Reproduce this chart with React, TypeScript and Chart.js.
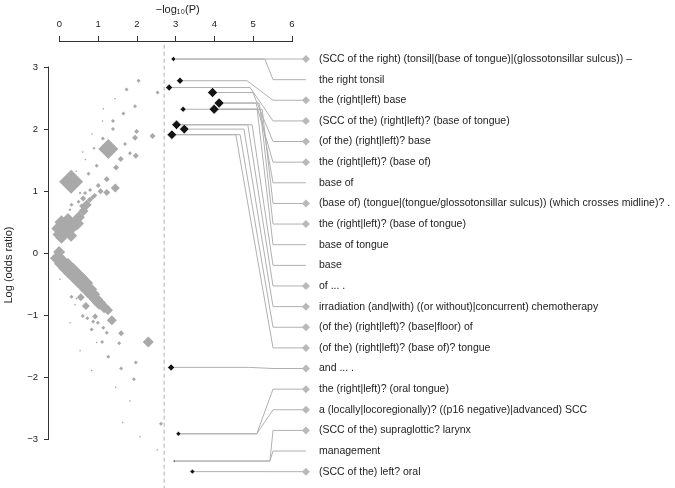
import React, { useEffect, useRef } from 'react';
import { Chart, registerables } from 'chart.js';

Chart.register(...registerables);

// ---- axes ----
const xTicks = [0, 1, 2, 3, 4, 5, 6];
const yTicks = [-3, -2, -1, 0, 1, 2, 3];
const xMin = -0.271;
const xMax = 6.374;
const yMin = -3.784;
const yMax = 3.404;
const threshold = 2.7;
const thresholdTop = 3.36;

// ---- significant (black) points ----
const sigX = [2.94, 3.11, 2.83, 3.95, 3.19, 4.12, 3.99, 3.02, 3.22, 2.9, 2.88, 3.07, 2.96, 3.43];
const sigY = [3.13, 2.78, 2.67, 2.59, 2.32, 2.42, 2.32, 2.07, 2.0, 1.91, -1.84, -2.91, -3.35, -3.52];
const sigR = [2.5, 3.5, 3.5, 5, 3, 5, 5, 4.8, 4.8, 4.8, 3.5, 2.5, 1.2, 2.5];

// ---- non-significant (grey) points ----
const greyX = [
  2.04, 1.73, 2.53, 1.43, 1.95, 1.13, 1.65, 1.11, 1.38, 1.38, 1.99, 2.4, 1.95, 0.84, 1.12, 1.26, 1.69, 1.82, 0.89, 0.6,
  0.67, 1.97, 1.58, 1.46, 0.96, 0.75, 0.43, 1.22, 1.44, 1.22, 1.0, 0.79, 0.91, 0.3, 0.66, 0.53, 0.61, 0.49, 0.31, 0.27,
  0.7, 0.62, 0.5, 0.35, 0.12, -0.03, 0.05, 0.3, 0.05, 0.22, 0.0, 0.45, 0.78, 0.86, 1.06, 0.57,
  -0.01, -0.04, 0.09, 0.22, 0.35, 0.48, 0.61, 0.74, 0.84, 0.94, 1.02, 1.15, 1.25, 0.68, 0.55,
  0.01, 0.31, 0.44, 0.4, 0.6, 0.72, 0.92, 0.87, 1.35, 0.27, 0.99, 0.83, 1.13, 1.22, 1.59, 0.96, 1.1, 1.54, 2.29, 0.53,
  1.26, 1.97, 0.83, 1.59, 1.92, 1.45, 1.82, 1.63, 2.62, 2.08, 2.52,
];
const greyY = [
  2.78, 2.64, 2.59, 2.49, 2.37, 2.33, 2.25, 2.13, 2.13, 2.0, 1.96, 1.89, 1.86, 1.92, 1.85, 1.68, 1.76, 1.61, 1.69, 1.63,
  1.51, 1.57, 1.52, 1.38, 1.41, 1.28, 1.32, 1.19, 1.05, 0.98, 1.09, 1.02, 0.93, 1.15, 0.97, 0.97, 0.88, 0.83, 0.78, 0.7,
  0.78, 0.68, 0.58, 0.45, 0.4, 0.4, 0.5, 0.28, 0.25, 0.55, 0.3, 0.48, 0.86, 0.9, 1.0, 0.76,
  0.02, -0.08, -0.17, -0.24, -0.32, -0.4, -0.48, -0.58, -0.66, -0.74, -0.8, -0.87, -0.92, -0.85, -0.71,
  -0.42, -0.7, -0.73, -0.83, -1.01, -1.05, -1.02, -1.1, -1.08, -1.12, -1.12, -1.23, -1.2, -1.28, -1.29, -1.44, -1.43, -1.45, -1.43, -1.57,
  -1.67, -1.76, -1.89, -1.86, -2.03, -2.16, -2.38, -2.73, -2.75, -2.96, -3.17,
];
const greyR = [
  2, 2, 2, 1, 2, 1, 2, 1, 2, 2, 2.5, 3, 3, 1, 2, 10, 2, 2, 1.5, 1,
  1, 3, 3, 3, 2, 2, 1, 3, 4.5, 3.5, 2.5, 2, 2.5, 12, 2, 1.5, 3, 2, 2, 1.5,
  5, 5, 6, 8, 11, 7, 7, 6, 6, 6, 7, 7, 3, 2.5, 3, 2.5,
  6, 8, 9, 10, 10, 10, 10, 9, 8, 7, 7, 6, 5, 4, 4,
  1, 2, 1, 1, 2, 2, 3, 2, 5, 1, 2, 2, 2, 2, 3, 1, 2, 2, 5.5, 1,
  2, 2, 1, 2, 2, 1, 1, 1, 2, 1, 1,
];

// ---- label rows ----
const rowLabels = [
  '(SCC of the right) (tonsil|(base of tongue)|(glossotonsillar sulcus)) \u2013',
  'the right tonsil',
  'the (right|left) base',
  '(SCC of the) (right|left)? (base of tongue)',
  '(of the) (right|left)? base',
  'the (right|left)? (base of)',
  'base of',
  '(base of) (tongue|(tongue/glossotonsillar sulcus)) (which crosses midline)? .',
  'the (right|left)? (base of tongue)',
  'base of tongue',
  'base',
  'of ... .',
  'irradiation (and|with) ((or without)|concurrent) chemotherapy',
  '(of the) (right|left)? (base|floor) of',
  '(of the) (right|left)? (base of)? tongue',
  'and ... .',
  'the (right|left)? (oral tongue)',
  'a (locally|locoregionally)? ((p16 negative)|advanced) SCC',
  '(SCC of the) supraglottic? larynx',
  'management',
  '(SCC of the) left? oral',
];
const rowY = [3.13, 2.797, 2.465, 2.132, 1.8, 1.467, 1.135, 0.802, 0.47, 0.137, -0.196, -0.528, -0.861, -1.193, -1.526, -1.858, -2.191, -2.523, -2.856, -3.188, -3.521];
const rowSrc = [0, 0, 1, 2, 3, 5, 5, 4, 6, 6, 7, 7, 8, 9, 9, 10, 11, 11, 12, 12, 13];
const rowBend = [5.3, 5.3, 4.84, 4.92, 4.99, 5.07, 5.15, 5.23, 5.18, 5.1, 4.97, 4.86, 4.76, 4.66, 4.55, 4.9, 5.09, 5.09, 5.43, 5.43, 5.3];
const rowMark = [1, 0, 1, 1, 1, 1, 0, 1, 1, 0, 0, 1, 1, 1, 1, 1, 1, 1, 1, 0, 1];
const bend2X = 5.51;
const endX = 6.36;

const FONT = "'Liberation Sans', Arial, Helvetica, sans-serif";
const axisColor = '#333333';
const textColor = '#222222';
const greyColor = '#a9a9a9';
const blackColor = '#141414';
const lineGrey = '#b0b0b0';
const markGrey = '#b9b9b9';

const fmt = (v: number) => (v < 0 ? '\u2212' + Math.abs(v) : String(v));

const axisLines = {
  id: 'axisLines',
  afterDraw(chart: any) {
    const { ctx, scales, chartArea } = chart;
    const sx = scales.x;
    const sy = scales.y;
    ctx.save();
    ctx.strokeStyle = axisColor;
    ctx.lineWidth = 1;
    ctx.beginPath();
    const ty = chartArea.top - 0.5;
    ctx.moveTo(Math.round(sx.getPixelForValue(xTicks[0])) - 0.5, ty);
    ctx.lineTo(Math.round(sx.getPixelForValue(xTicks[xTicks.length - 1])) + 0.5, ty);
    const lx = chartArea.left - 0.5;
    ctx.moveTo(lx, Math.round(sy.getPixelForValue(yTicks[yTicks.length - 1])) - 0.5);
    ctx.lineTo(lx, Math.round(sy.getPixelForValue(yTicks[0])) + 0.5);
    ctx.stroke();
    ctx.restore();
  },
};

export default function App() {
  const ref = useRef<HTMLCanvasElement>(null);

  useEffect(() => {
    const canvas = ref.current;
    if (!canvas) return;
    Chart.defaults.font.family = FONT;

    const datasets: any[] = [];
    datasets.push({
      data: sigX.map((x, i) => ({ x, y: sigY[i] })),
      pointStyle: 'rectRot',
      pointRadius: sigR,
      backgroundColor: blackColor,
      borderColor: '#ffffff',
      borderWidth: 0.6,
      order: 0,
      clip: false,
    });
    const marked = rowY.map((y, i) => ({ y, i })).filter((r) => rowMark[r.i] === 1);
    datasets.push({
      data: marked.map((r) => ({ x: endX, y: r.y })),
      pointStyle: 'rectRot',
      pointRadius: 4,
      backgroundColor: markGrey,
      borderWidth: 0,
      order: 1,
      clip: false,
    });
    rowY.forEach((ry, i) => {
      const s = rowSrc[i];
      datasets.push({
        data: [
          { x: sigX[s], y: sigY[s] },
          { x: rowBend[i], y: sigY[s] },
          { x: bend2X, y: ry },
          { x: endX, y: ry },
        ],
        showLine: true,
        pointRadius: 0,
        borderColor: lineGrey,
        borderWidth: 1,
        order: 2,
        clip: false,
      });
    });
    datasets.push({
      data: greyX.map((x, i) => ({ x, y: greyY[i] })),
      pointStyle: 'rectRot',
      pointRadius: greyR,
      backgroundColor: greyColor,
      borderWidth: 0,
      order: 3,
    });
    datasets.push({
      data: [
        { x: threshold, y: thresholdTop },
        { x: threshold, y: yMin },
      ],
      showLine: true,
      pointRadius: 0,
      borderColor: lineGrey,
      borderWidth: 1,
      borderDash: [4, 3],
      order: 4,
    });

    const chart = new Chart(canvas, {
      type: 'scatter',
      data: { datasets },
      options: {
        animation: false,
        responsive: false,
        events: [],
        layout: { padding: 0, autoPadding: false },
        plugins: { legend: { display: false }, tooltip: { enabled: false } },
        scales: {
          x: {
            type: 'linear',
            position: 'top',
            min: xMin,
            max: xMax,
            afterBuildTicks: (s: any) => {
              s.ticks = xTicks.map((v) => ({ value: v }));
            },
            afterFit: (s: any) => {
              s.height = 42;
              s.paddingLeft = 0;
              s.paddingRight = 0;
            },
            ticks: {
              font: { family: FONT, size: 9.5 },
              color: textColor,
              padding: 6,
              maxRotation: 0,
              autoSkip: false,
              callback: (v: any) => fmt(Number(v)),
            },
            grid: { drawOnChartArea: false, drawTicks: true, tickLength: 6, color: axisColor, lineWidth: 1 },
            border: { display: false },
            title: {
              display: true,
              text: '\u2212log\u2081\u2080(P)',
              font: { family: FONT, size: 11 },
              color: textColor,
              padding: { top: 3, bottom: 0 },
            },
          },
          y: {
            type: 'linear',
            position: 'left',
            min: yMin,
            max: yMax,
            afterBuildTicks: (s: any) => {
              s.ticks = yTicks.map((v) => ({ value: v }));
            },
            afterFit: (s: any) => {
              s.width = 49;
              s.paddingTop = 0;
              s.paddingBottom = 0;
            },
            ticks: {
              font: { family: FONT, size: 9.5 },
              color: textColor,
              padding: 6,
              autoSkip: false,
              callback: (v: any) => fmt(Number(v)),
            },
            grid: { drawOnChartArea: false, drawTicks: true, tickLength: 5, color: axisColor, lineWidth: 1 },
            border: { display: false },
            title: {
              display: true,
              text: 'Log (odds ratio)',
              font: { family: FONT, size: 11 },
              color: textColor,
              padding: { top: 2, bottom: 0 },
            },
          },
          yR: {
            type: 'linear',
            axis: 'y',
            position: 'right',
            min: yMin,
            max: yMax,
            afterBuildTicks: (s: any) => {
              s.ticks = rowY.map((v) => ({ value: v }));
            },
            afterFit: (s: any) => {
              s.width = 368.5;
              s.paddingTop = 0;
              s.paddingBottom = 0;
            },
            ticks: {
              font: { family: FONT, size: 10.5 },
              color: textColor,
              padding: 12.5,
              autoSkip: false,
              callback: (_v: any, i: number) => rowLabels[i],
            },
            grid: { display: false, drawTicks: false },
            border: { display: false },
          },
        },
      } as any,
      plugins: [axisLines],
    });

    return () => chart.destroy();
  }, []);

  return (
    <div style={{ position: 'absolute', left: 0, top: 0, width: 675, height: 488 }}>
      <canvas ref={ref} width={675} height={488} style={{ display: 'block', width: 675, height: 488 }} />
    </div>
  );
}
